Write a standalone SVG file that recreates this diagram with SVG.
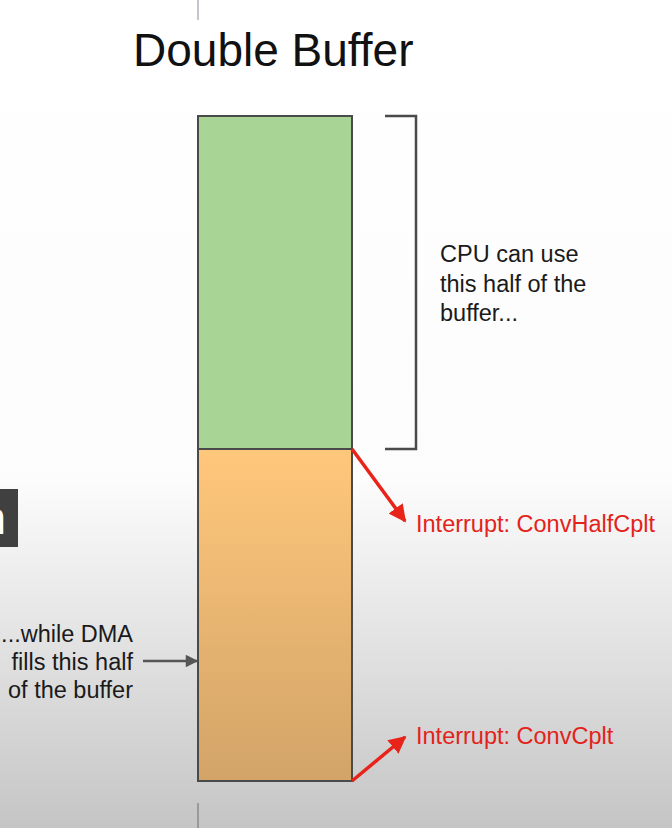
<svg xmlns="http://www.w3.org/2000/svg" width="672" height="828" viewBox="0 0 672 828">
<defs>
<linearGradient id="bg" x1="0" y1="0" x2="0" y2="828" gradientUnits="userSpaceOnUse">
<stop offset="0" stop-color="#ffffff"/>
<stop offset="0.58" stop-color="#fcfcfc"/>
<stop offset="1" stop-color="#c5c5c5"/>
</linearGradient>
<linearGradient id="orange" x1="0" y1="449" x2="0" y2="781" gradientUnits="userSpaceOnUse">
<stop offset="0" stop-color="#ffc77b"/>
<stop offset="1" stop-color="#d2a468"/>
</linearGradient>
<marker id="redhead" viewBox="0 0 10 10" refX="9" refY="5" markerWidth="5" markerHeight="5" markerUnits="strokeWidth" orient="auto">
<path d="M0,0 L10,5 L0,10 z" fill="#e8231a"/>
</marker>
<marker id="grayhead" viewBox="0 0 10 10" refX="9" refY="5" markerWidth="7" markerHeight="5" markerUnits="strokeWidth" orient="auto">
<path d="M0,0 L10,5 L0,10 z" fill="#555555"/>
</marker>
</defs>
<style>
.t{font-family:"Liberation Sans",Arial,sans-serif;font-size:23.5px;fill:#1a1a1a}
.r{font-family:"Liberation Sans",Arial,sans-serif;font-size:23.5px;fill:#e3231b}
.box{stroke:#4a4a4a;stroke-width:2}
</style>
<rect x="0" y="0" width="672" height="828" fill="url(#bg)"/>
<line x1="198" y1="0" x2="198" y2="20" stroke="#c4c4cc" stroke-width="2"/>
<line x1="198" y1="803" x2="198" y2="828" stroke="#9a9a9a" stroke-width="2"/>
<text x="133" y="66" font-family="Liberation Sans,Arial,sans-serif" font-size="46" fill="#111">Double Buffer</text>
<g id="dark-tab">
<rect x="0" y="489" width="18" height="58" fill="#404040"/>
<svg x="0" y="489" width="18" height="58" overflow="hidden"><text x="-19.5" y="45" font-family="Liberation Sans,Arial,sans-serif" font-size="46" fill="#ffffff">n</text></svg>
</g>
<g id="buffer-top">
<rect class="box" x="198" y="116" width="154" height="333" fill="#a8d596"/>
</g>
<g id="buffer-bottom">
<rect class="box" x="198" y="449" width="154" height="332" fill="url(#orange)"/>
</g>
<g id="bracket">
<path d="M385,116 H416 V449 H385" fill="none" stroke="#4a4a4a" stroke-width="2.5"/>
</g>
<g id="cpu-label">
<text class="t" x="440" y="262">CPU can use</text>
<text class="t" x="440" y="291.5">this half of the</text>
<text class="t" x="440" y="321">buffer...</text>
</g>
<g id="dma-label">
<text class="t" x="133" y="642" text-anchor="end">...while DMA</text>
<text class="t" x="133" y="670" text-anchor="end">fills this half</text>
<text class="t" x="133" y="698" text-anchor="end">of the buffer</text>
</g>
<g id="int-half">
<text class="r" x="416" y="532">Interrupt: ConvHalfCplt</text>
</g>
<g id="int-full">
<text class="r" x="416" y="744">Interrupt: ConvCplt</text>
</g>
<g id="connectors">
<line x1="352" y1="449" x2="405" y2="521" stroke="#e8231a" stroke-width="3.5" marker-end="url(#redhead)"/>
<line x1="352" y1="781" x2="405" y2="737" stroke="#e8231a" stroke-width="3.5" marker-end="url(#redhead)"/>
<line x1="143" y1="661" x2="197" y2="661" stroke="#555555" stroke-width="2.5" marker-end="url(#grayhead)"/>
</g>
</svg>
